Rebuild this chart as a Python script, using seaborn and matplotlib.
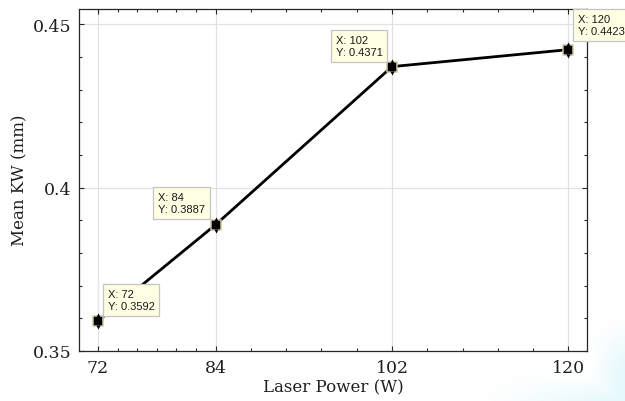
import numpy as np
import pandas as pd
import matplotlib
matplotlib.use("Agg")
import matplotlib.pyplot as plt
from matplotlib import transforms as mtrans
from matplotlib.ticker import FixedLocator, MultipleLocator
import seaborn as sns

# ---- data ----
laser_power = [72, 84, 102, 120]
mean_kw = [0.3592, 0.3887, 0.4371, 0.4423]
x_ticks = [72, 84, 102, 120]
y_ticks = [0.35, 0.4, 0.45]
y_tick_labels = ["0.35", "0.4", "0.45"]
x_label = "Laser Power (W)"
y_label = "Mean KW (mm)"

df = pd.DataFrame({"power": laser_power, "kw": mean_kw})

sns.set_theme(style="ticks")
plt.rcParams["font.family"] = ["DejaVu Serif"]
plt.rcParams["axes.unicode_minus"] = False

DPI = 100
fig = plt.figure(figsize=(6.25, 4.02), dpi=DPI, facecolor="white")

# faint watermark tint in the lower-right corner (decoration)
bg = fig.add_axes([0, 0, 1, 1], zorder=-5)
bg.set_axis_off()
yy, xx = np.mgrid[0:402, 0:625]
a1 = np.clip((xx - 590) / 30, 0, 1) * np.clip((yy - 320) / 50, 0, 1)
a2 = np.clip((xx - 480) / 140, 0, 1) * np.clip((yy - 375) / 25, 0, 1)
alpha = np.clip(np.maximum(a1, a2), 0, 1) * 0.34
img = np.zeros((402, 625, 4))
img[..., 0] = 0.70
img[..., 1] = 0.93
img[..., 2] = 0.96
img[..., 3] = alpha
bg.imshow(img, extent=[0, 1, 0, 1], aspect="auto", origin="upper")
bg.set_xlim(0, 1)
bg.set_ylim(0, 1)

ax = fig.add_axes([79 / 625, 1 - 352 / 402, (587 - 79) / 625, (352 - 9.5) / 402])
ax.set_facecolor("white")

sns.lineplot(data=df, x="power", y="kw", color="black", linewidth=2.0, ax=ax,
             zorder=3, legend=False)

# datatip markers: black square with beige rim plus small arrow heads
ax.scatter(df["power"], df["kw"], marker="s", s=44, color="black",
           edgecolors="#CFC6A0", linewidths=1.1, zorder=4)
up = mtrans.offset_copy(ax.transData, fig=fig, x=0, y=4.4, units="points")
dn = mtrans.offset_copy(ax.transData, fig=fig, x=0, y=-4.4, units="points")
ax.scatter(df["power"], df["kw"], marker="^", s=9, color="black",
           linewidths=0, zorder=4, transform=up)
ax.scatter(df["power"], df["kw"], marker="v", s=9, color="black",
           linewidths=0, zorder=4, transform=dn)

# datatip boxes
px2pt = 72 / DPI
tip_offsets = [(5, 5, "left"), (-6, 6, "right"), (-5, 5, "right"), (5, 9, "left")]
pad_px = 4.6
for xv, yv, (dx, dy, ha) in zip(laser_power, mean_kw, tip_offsets):
    sx = dx + (pad_px if ha == "left" else -pad_px)
    sy = dy + pad_px
    ax.annotate(f"X: {xv}\nY: {yv:.4f}", xy=(xv, yv),
                xytext=(sx * px2pt, sy * px2pt), textcoords="offset points",
                ha=ha, va="bottom", multialignment="left", fontsize=8.0,
                family=["Liberation Sans", "DejaVu Sans"], color="#1a1a1a",
                linespacing=1.3, annotation_clip=False, zorder=6,
                bbox=dict(boxstyle="square,pad=0.42", fc="#FFFFE3",
                          ec="#C4C4C4", lw=0.9))

ax.set_xlim(70.05, 121.9)
ax.set_ylim(0.35, 0.4549)
ax.set_xticks(x_ticks)
ax.set_xticklabels([str(v) for v in x_ticks])
ax.set_yticks(y_ticks)
ax.set_yticklabels(y_tick_labels)
ax.xaxis.set_minor_locator(FixedLocator([74, 76, 78, 80, 82, 87.6, 91.2, 94.8, 98.4,
                                         105.6, 109.2, 112.8, 116.4]))
ax.yaxis.set_minor_locator(MultipleLocator(0.01))

ax.grid(True, which="major", color="#E2E2E2", linewidth=0.9)
ax.set_axisbelow(True)
ax.tick_params(which="both", direction="in", top=True, right=True,
               colors="#262626", labelcolor="#1f1f1f", width=0.8)
ax.tick_params(which="major", length=3.8, labelsize=12.5, pad=5.5)
ax.tick_params(which="minor", length=2.3)
for sp in ax.spines.values():
    sp.set_color("#262626")
    sp.set_linewidth(0.9)

ax.set_xlabel(x_label, fontsize=12, color="#1f1f1f", labelpad=2)
ax.set_ylabel(y_label, fontsize=12, color="#1f1f1f", labelpad=3)

fig.savefig("out.png", dpi=DPI, facecolor="white")
